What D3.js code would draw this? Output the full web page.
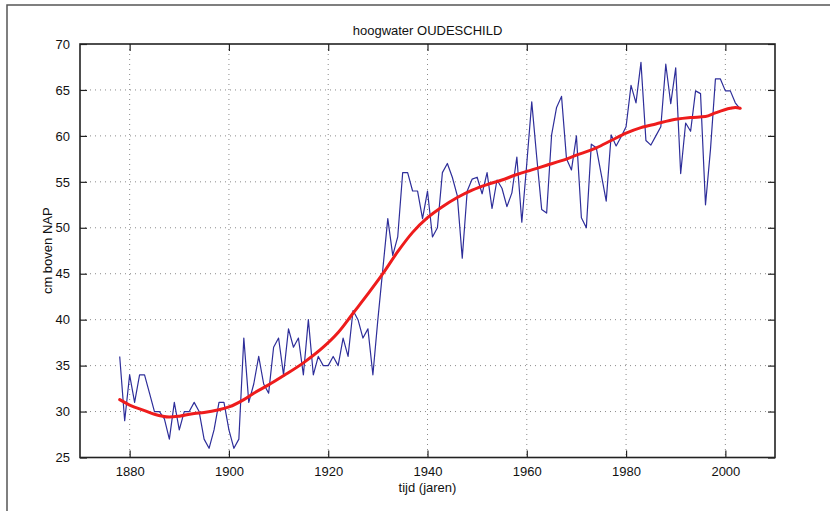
<!DOCTYPE html>
<html>
<head>
<meta charset="utf-8">
<script src="https://cdn.jsdelivr.net/npm/d3@7"></script>
<style>
  html, body { margin: 0; padding: 0; background: #fff; }
  svg { display: block; font-family: "Liberation Sans", Arial, Helvetica, sans-serif; }
</style>
</head>
<body>
<svg id="chart" width="830" height="511"></svg>
<script>
// Annual mean high water at Oudeschild (cm above NAP)
const startYear = 1878;
const highWater = [
  36, 29, 34, 31, 34, 34, 32, 30, 30, 29.2,          // 1878-1887
  27, 31, 28, 30, 30, 31, 30, 27, 26, 28,            // 1888-1897
  31, 31, 28, 26, 27, 38, 31, 33, 36, 33,            // 1898-1907
  32, 37, 38, 34, 39, 37, 38, 34, 40, 34,            // 1908-1917
  36, 35, 35, 36, 35, 38, 36, 41, 40, 38,            // 1918-1927
  39, 34, 40, 45.5, 51, 47, 49, 56, 56, 54,          // 1928-1937
  54, 51, 54, 49, 50, 56, 57, 55.5, 53.5, 46.7,      // 1938-1947
  54, 55.3, 55.5, 53.7, 56, 52.1, 55.2, 54.3, 52.3, 53.8, // 1948-1957
  57.7, 50.6, 57, 63.7, 57.7, 52, 51.6, 60.1, 63.1, 64.3, // 1958-1967
  57.5, 56.3, 60, 51.1, 50, 59.1, 58.7, 55.8, 52.9, 60.1, // 1968-1977
  58.9, 59.9, 61, 65.5, 63.6, 68, 59.5, 59, 60, 61,  // 1978-1987
  67.8, 63.5, 67.4, 55.9, 61.4, 60.5, 64.9, 64.6, 52.5, 58.5, // 1988-1997
  66.2, 66.2, 64.9, 64.9, 63.6, 62.9                 // 1998-2003
];
const years = highWater.map((_, i) => startYear + i);

// Smoothed trend, sampled at selected years
const trendYears = [1878, 1880, 1883, 1885, 1888, 1890, 1893, 1895, 1898, 1900,
  1903, 1905, 1908, 1911, 1915, 1919, 1922, 1925, 1928, 1931, 1934, 1937, 1940,
  1943, 1946, 1949, 1952, 1955, 1958, 1961, 1964, 1967, 1970, 1974, 1977, 1980,
  1983, 1986, 1990, 1993, 1996, 1998, 2001, 2002, 2003];
const trendValues = [31.3, 30.7, 30.1, 29.7, 29.4, 29.5, 29.8, 29.9, 30.2, 30.5,
  31.3, 32.0, 32.9, 33.9, 35.3, 37.0, 38.6, 40.7, 42.8, 45.0, 47.4, 49.5, 51.1,
  52.3, 53.3, 54.1, 54.7, 55.2, 55.8, 56.3, 56.8, 57.3, 57.9, 58.7, 59.5, 60.3,
  60.9, 61.3, 61.8, 62.0, 62.1, 62.5, 63.0, 63.1, 63.0];

const xTicks = [1880, 1900, 1920, 1940, 1960, 1980, 2000];
const yTicks = [25, 30, 35, 40, 45, 50, 55, 60, 65, 70];

const titleText = "hoogwater OUDESCHILD";
const xLabel = "tijd (jaren)";
const yLabel = "cm boven NAP";

(function draw() {
  const svg = d3.select("#chart");
  const W = 830, H = 511;
  const pLeft = 80, pRight = 775, pTop = 44, pBottom = 457.5;

  const x = d3.scaleLinear().domain([1870, 2010]).range([pLeft, pRight]);
  const y = d3.scaleLinear().domain([25, 70]).range([pBottom, pTop]);

  // figure frame
  svg.append("path")
    .attr("d", `M7,${H} L7,5 L${W},5`)
    .attr("fill", "none")
    .attr("stroke", "#555")
    .attr("stroke-width", 1.5);

  // dotted grid
  const grid = svg.append("g").attr("stroke", "#8a8a8a").attr("stroke-width", 1)
    .attr("stroke-dasharray", "1,4");
  grid.selectAll("line.gx").data(xTicks).join("line").attr("class", "gx")
    .attr("x1", d => x(d)).attr("x2", d => x(d))
    .attr("y1", pTop).attr("y2", pBottom);
  grid.selectAll("line.gy").data(yTicks.slice(1, -1)).join("line").attr("class", "gy")
    .attr("x1", pLeft).attr("x2", pRight)
    .attr("y1", d => y(d)).attr("y2", d => y(d));

  // clip region for the data lines
  svg.append("clipPath").attr("id", "plotclip")
    .append("rect").attr("x", pLeft).attr("y", pTop)
    .attr("width", pRight - pLeft).attr("height", pBottom - pTop);

  const plot = svg.append("g").attr("clip-path", "url(#plotclip)");

  plot.append("path")
    .datum(years.map((yr, i) => [yr, highWater[i]]))
    .attr("fill", "none")
    .attr("stroke", "#2e2e9a")
    .attr("stroke-width", 1.2)
    .attr("stroke-linejoin", "round")
    .attr("d", d3.line().x(d => x(d[0])).y(d => y(d[1])));

  plot.append("path")
    .datum(trendYears.map((yr, i) => [yr, trendValues[i]]))
    .attr("fill", "none")
    .attr("stroke", "#ee1c1c")
    .attr("stroke-width", 3)
    .attr("stroke-linecap", "round")
    .attr("d", d3.line().curve(d3.curveMonotoneX).x(d => x(d[0])).y(d => y(d[1])));

  // axes with inward ticks on all four sides
  const tickLen = 7;
  const axisColor = "#222";
  svg.append("g").attr("transform", `translate(0,${pBottom})`)
    .call(d3.axisBottom(x).tickValues(xTicks).tickSizeInner(-tickLen).tickSizeOuter(0).tickPadding(9).tickFormat(d3.format("d")))
    .call(g => g.select(".domain").remove());
  svg.append("g").attr("transform", `translate(0,${pTop})`)
    .call(d3.axisTop(x).tickValues(xTicks).tickSizeInner(-tickLen).tickSizeOuter(0).tickFormat(""))
    .call(g => g.select(".domain").remove());
  svg.append("g").attr("transform", `translate(${pLeft},0)`)
    .call(d3.axisLeft(y).tickValues(yTicks).tickSizeInner(-tickLen).tickSizeOuter(0).tickPadding(10))
    .call(g => g.select(".domain").remove());
  svg.append("g").attr("transform", `translate(${pRight},0)`)
    .call(d3.axisRight(y).tickValues(yTicks).tickSizeInner(-tickLen).tickSizeOuter(0).tickFormat(""))
    .call(g => g.select(".domain").remove());

  svg.selectAll(".tick line").attr("stroke", axisColor).attr("stroke-width", 1.2);
  svg.selectAll(".tick text").attr("fill", "#111").style("font-size", "13px")
    .style("font-family", "'Liberation Sans', Arial, sans-serif");

  svg.append("rect")
    .attr("x", pLeft).attr("y", pTop)
    .attr("width", pRight - pLeft).attr("height", pBottom - pTop)
    .attr("fill", "none").attr("stroke", axisColor).attr("stroke-width", 1.6);

  // titles
  svg.append("text")
    .attr("x", (pLeft + pRight) / 2).attr("y", 35)
    .attr("text-anchor", "middle").attr("font-size", 13).attr("fill", "#111")
    .text(titleText);
  svg.append("text")
    .attr("x", (pLeft + pRight) / 2).attr("y", 492)
    .attr("text-anchor", "middle").attr("font-size", 13).attr("fill", "#111")
    .text(xLabel);
  svg.append("text")
    .attr("transform", `translate(52,${(pTop + pBottom) / 2}) rotate(-90)`)
    .attr("text-anchor", "middle").attr("font-size", 13).attr("fill", "#111")
    .text(yLabel);
})();
</script>
</body>
</html>
